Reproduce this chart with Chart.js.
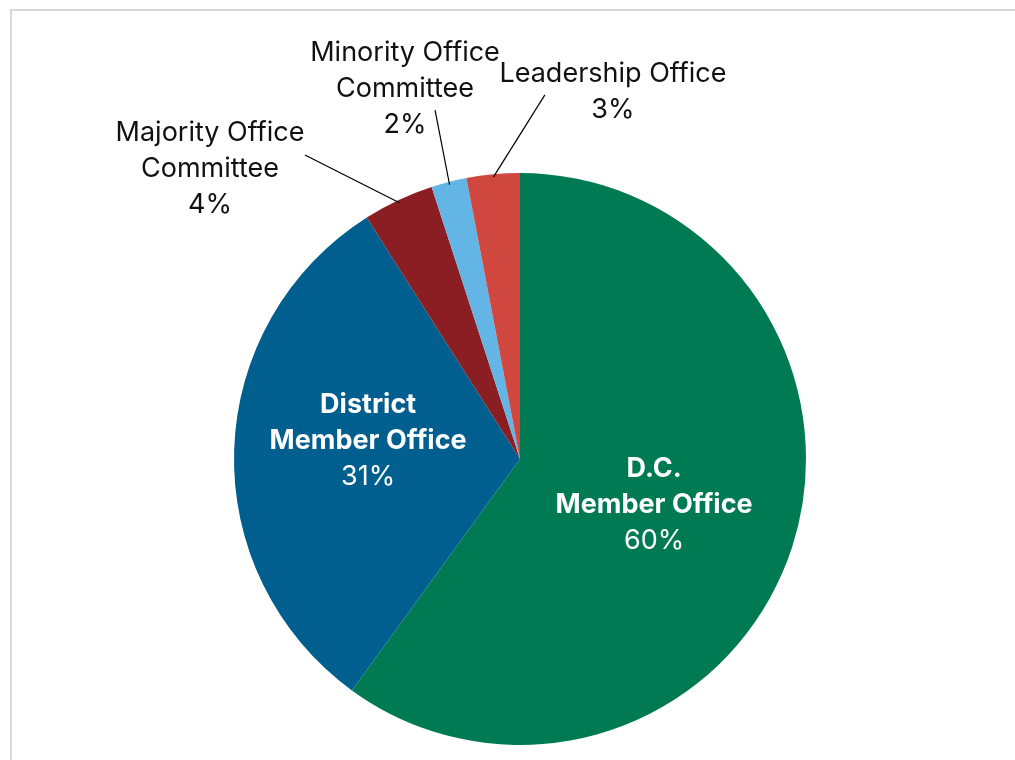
<!DOCTYPE html>
<html lang="en">
<head>
    <meta charset="UTF-8">
    <title>Office Spending</title>
    <script src="https://cdn.jsdelivr.net/npm/chart.js"></script>
<style>
    body {
        margin: 0;
        background: #fff;
    }

    .frame {
        position: absolute;
        left: 10px;
        top: 9px;
        width: 1015px;
        height: 760px;
        border-left: 2px solid #d9d9d9;
        border-top: 2px solid #d9d9d9;
    }

    .wrap {
        position: absolute;
        left: 0;
        top: 0;
        width: 1015px;
        height: 760px;
    }
</style>
</head>
<body>
<div class="frame"></div>
<div class="wrap"><canvas id="myChart"></canvas></div>

<script>

    // data
    const categories = [
        ['D.C.', 'Member Office'],
        ['District', 'Member Office'],
        ['Majority Office', 'Committee'],
        ['Minority Office', 'Committee'],
        ['Leadership Office']
    ];
    const shares = [60, 31, 4, 2, 3];
    const sliceColors = ['#007a52', '#005f8e', '#8b1e22', '#62b5e5', '#d0473f'];

    // label placement, in radius units from the pie centre
    const labelSpots = [
        {dx: 0.469, dy: 0.161, inside: true},
        {dx: -0.531, dy: -0.063, inside: true},
        {dx: -1.084, dy: -1.014, lineFrom: [-0.752, -1.063]},
        {dx: -0.402, dy: -1.294, lineFrom: [-0.297, -1.220]},
        {dx: 0.325, dy: -1.282, lineFrom: [0.087, -1.273]}
    ];

    const lineH = 36;
    const fontSize = 27;

    const pieLabels = {
        id: 'pieLabels',
        afterDatasetsDraw(chart) {
            const ctx = chart.ctx;
            const arcs = chart.getDatasetMeta(0).data;
            ctx.save();
            arcs.forEach((arc, i) => {
                const p = arc.getProps(['x', 'y', 'startAngle', 'endAngle', 'outerRadius'], true);
                const r = p.outerRadius;
                const spot = labelSpots[i];
                const lines = categories[i].concat([shares[i] + '%']);
                const cx = p.x + spot.dx * r;
                const cy = p.y + spot.dy * r;

                if (spot.lineFrom) {
                    const mid = (p.startAngle + p.endAngle) / 2;
                    ctx.strokeStyle = '#000';
                    ctx.lineWidth = 1.2;
                    ctx.beginPath();
                    ctx.moveTo(p.x + spot.lineFrom[0] * r, p.y + spot.lineFrom[1] * r);
                    ctx.lineTo(p.x + Math.cos(mid) * r * 0.99, p.y + Math.sin(mid) * r * 0.99);
                    ctx.stroke();
                }

                ctx.textAlign = 'center';
                ctx.textBaseline = 'middle';
                const top = cy - (lines.length - 1) * lineH / 2;
                lines.forEach((t, k) => {
                    const isPct = k === lines.length - 1;
                    if (spot.inside) {
                        ctx.fillStyle = '#fff';
                        ctx.font = (isPct ? '' : 'bold ') + fontSize + 'px Inter, "Noto Sans", sans-serif';
                    } else {
                        ctx.fillStyle = '#111';
                        ctx.font = fontSize + 'px Inter, "Noto Sans", sans-serif';
                    }
                    ctx.fillText(t, cx, top + k * lineH);
                });
            });
            ctx.restore();
        }
    };

    const ctx = document.getElementById('myChart').getContext('2d');
    const officeChart = new Chart(ctx, {
        type: 'pie',
        data: {
            labels: categories.map(c => c.join(' ')),
            datasets: [{
                data: shares,
                backgroundColor: sliceColors,
                borderWidth: 0,
                hoverOffset: 0,
                offset: 0
            }]
        },
        options: {
            responsive: true,
            maintainAspectRatio: false,
            animation: false,
            layout: {
                padding: {left: 234, right: 209, top: 173, bottom: 15}
            },
            plugins: {
                legend: {display: false},
                tooltip: {enabled: false}
            }
        },
        plugins: [pieLabels]
    });

</script>

</body>

</html>
